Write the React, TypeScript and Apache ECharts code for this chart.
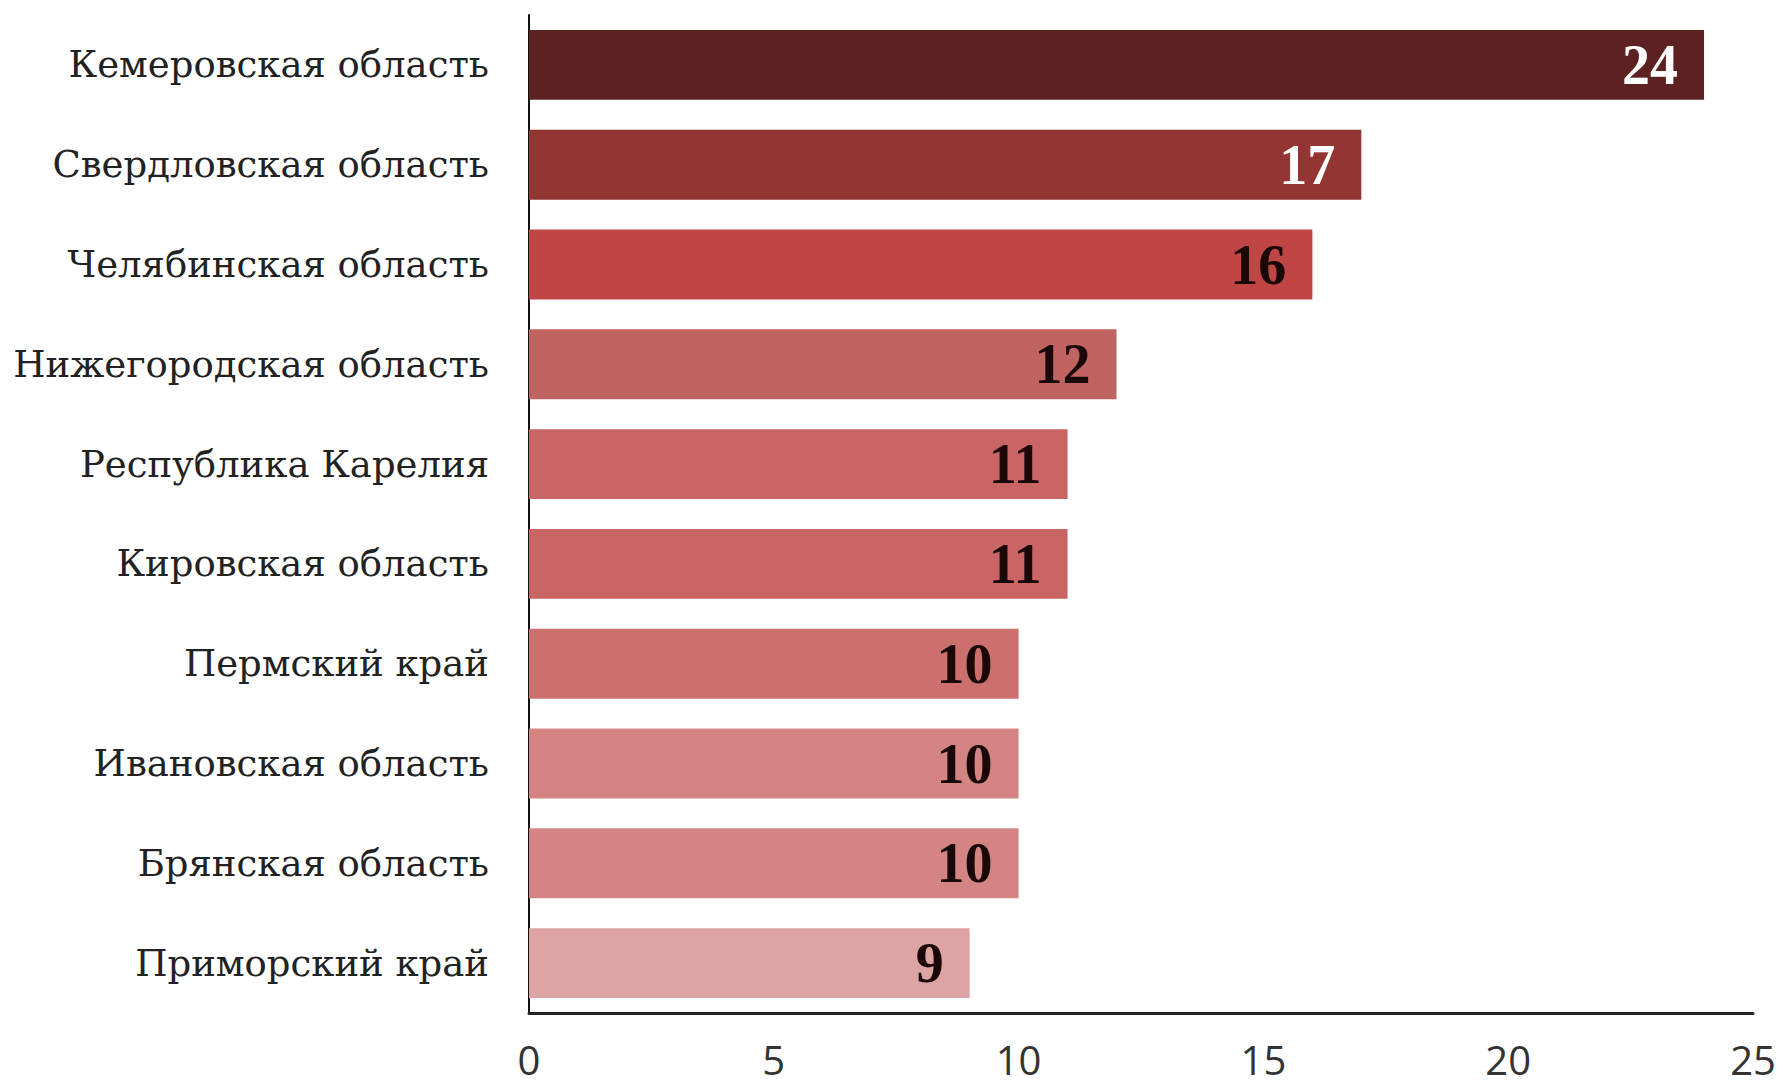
import React, { useEffect, useRef } from "react";
import * as echarts from "echarts";

const categories = [
  "Кемеровская область",
  "Свердловская область",
  "Челябинская область",
  "Нижегородская область",
  "Республика Карелия",
  "Кировская область",
  "Пермский край",
  "Ивановская область",
  "Брянская область",
  "Приморский край",
];
const values = [24, 17, 16, 12, 11, 11, 10, 10, 10, 9];
const barColors = [
  "#5e2121",
  "#933533",
  "#c04545",
  "#c06462",
  "#c96665",
  "#c96665",
  "#cc706e",
  "#d48583",
  "#d48583",
  "#dea4a4",
];
const labelColors = [
  "#ffffff",
  "#ffffff",
  "#1a0808",
  "#1a0808",
  "#1a0808",
  "#1a0808",
  "#1a0808",
  "#1a0808",
  "#1a0808",
  "#1a0808",
];
const xTicks = { min: 0, max: 25, interval: 5 };

export default function App() {
  const ref = useRef<HTMLDivElement>(null);
  useEffect(() => {
    if (!ref.current) return;
    const chart = echarts.init(ref.current, undefined, { renderer: "svg" });
    chart.setOption({
      animation: false,
      backgroundColor: "#ffffff",
      grid: { left: 529, right: 30, top: 15, bottom: 74, containLabel: false },
      xAxis: {
        type: "value",
        min: xTicks.min,
        max: xTicks.max,
        interval: xTicks.interval,
        splitLine: { show: false },
        axisTick: { show: false },
        axisLine: { show: true, lineStyle: { color: "#222", width: 3 } },
        axisLabel: {
          fontFamily: "'Liberation Sans Narrow', 'Open Sans', sans-serif",
          fontSize: 40,
          lineHeight: 40,
          color: "#333",
          margin: 26,
        },
      },
      yAxis: {
        type: "category",
        inverse: true,
        data: categories,
        axisTick: { show: false },
        axisLine: { show: true, lineStyle: { color: "#111", width: 2 } },
        axisLabel: {
          fontFamily: "'DejaVu Serif', serif",
          fontSize: 37,
          color: "#222",
          margin: 40,
        },
      },
      series: [
        {
          type: "bar",
          barWidth: "70%",
          data: values.map((v, i) => ({
            value: v,
            itemStyle: { color: barColors[i] },
            label: { color: labelColors[i] },
          })),
          label: {
            show: true,
            position: "insideRight",
            distance: 26,
            fontFamily: "'Liberation Serif', serif",
            fontWeight: "bold",
            fontSize: 56,
          },
        },
      ],
    });
    return () => chart.dispose();
  }, []);
  return (
    <div
      ref={ref}
      style={{ position: "absolute", left: 0, top: 0, width: 1783, height: 1087 }}
    />
  );
}
